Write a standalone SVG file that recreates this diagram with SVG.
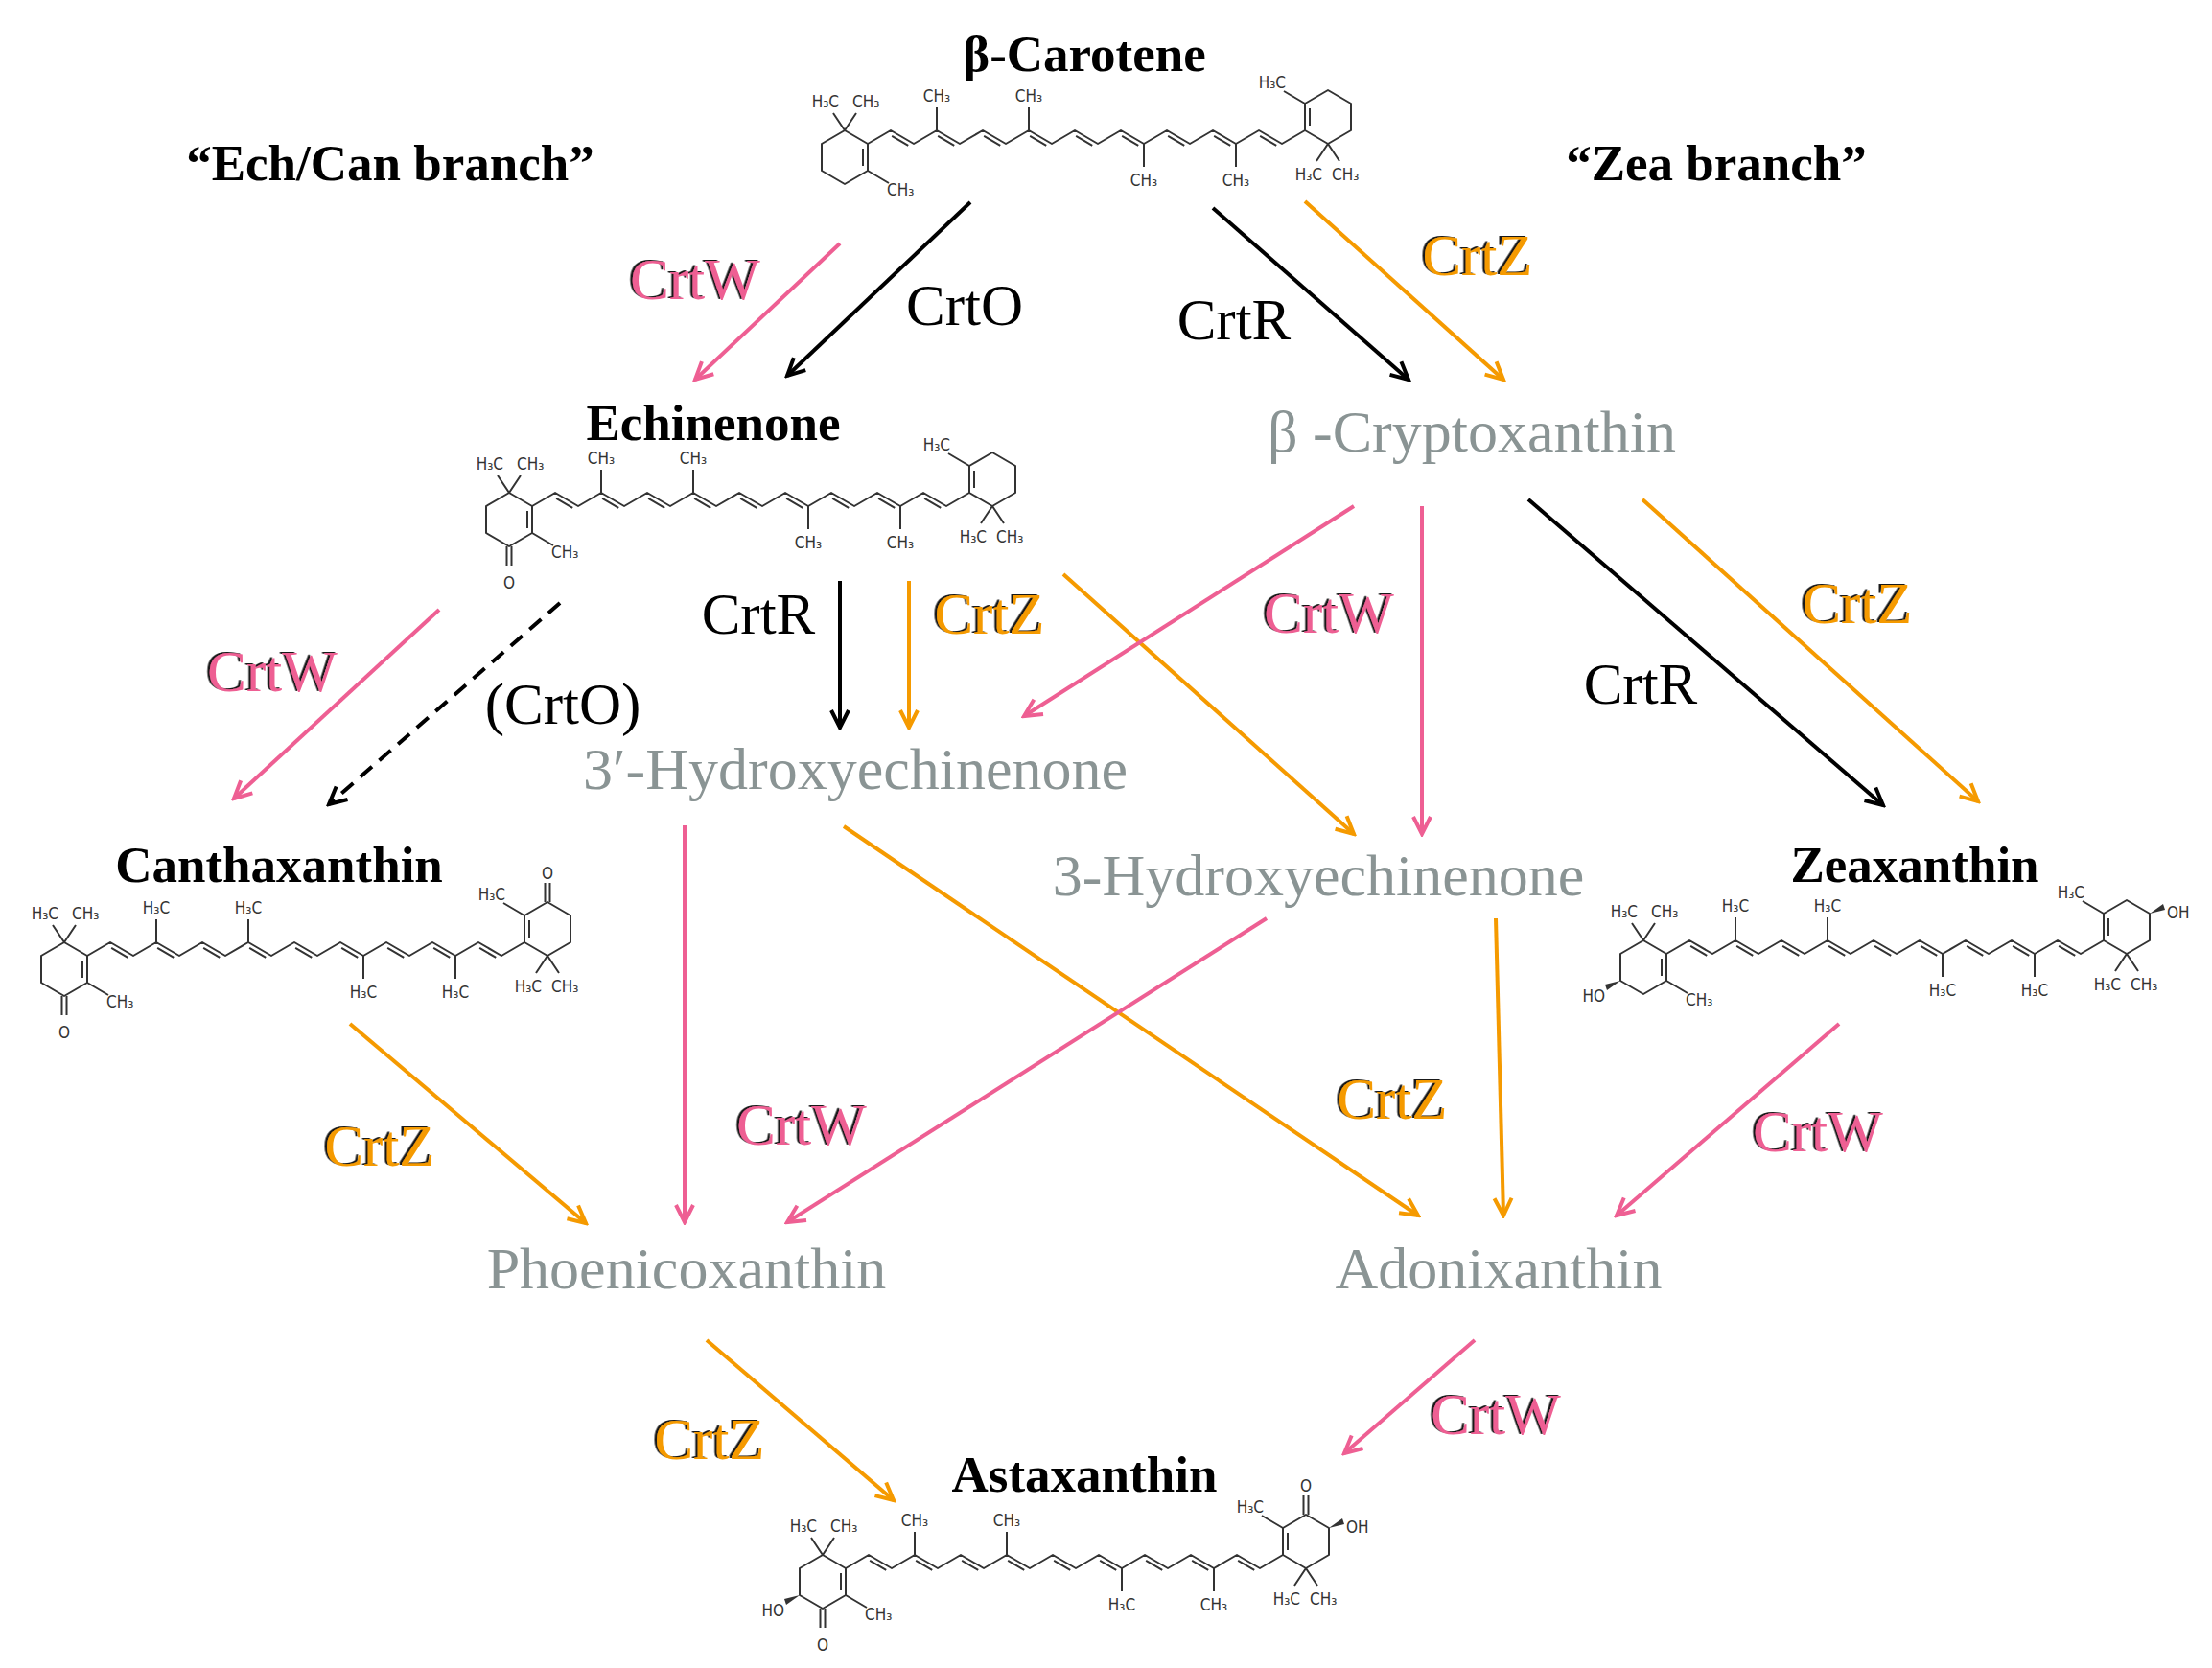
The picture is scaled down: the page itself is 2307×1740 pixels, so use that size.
<svg xmlns="http://www.w3.org/2000/svg" xmlns:xlink="http://www.w3.org/1999/xlink" width="2307" height="1740" viewBox="0 0 2307 1740">
<style>
.b{font-family:"Liberation Serif",serif;font-weight:bold;font-size:53px;fill:#000;text-anchor:middle}
.g{font-family:"Liberation Serif",serif;font-size:62px;fill:#8a9494;text-anchor:middle}
.e{font-family:"Liberation Serif",serif;font-size:61px;text-anchor:middle}
.k{fill:#000}.p{fill:#ee5f93;filter:url(#sh)}.o{fill:#f59a00;filter:url(#sh)}
.s{font-family:"DejaVu Sans Condensed","DejaVu Sans",sans-serif;font-size:17px;fill:#333}
.m{text-anchor:middle}.r{text-anchor:end}
.bond{fill:none;stroke:#333;stroke-width:2;stroke-linejoin:round}
.a{fill:none;stroke-width:4}
.ak{stroke:#000;marker-end:url(#mk)}.ap{stroke:#ee5f93;marker-end:url(#mp)}.ao{stroke:#f59a00;marker-end:url(#mo)}
</style>
<defs>
<filter id="sh" x="-10%" y="-10%" width="120%" height="120%"><feDropShadow dx="-2.5" dy="-1" stdDeviation="0.6" flood-color="#000" flood-opacity="0.9"/></filter>
<marker id="mk" viewBox="0 0 24 24" refX="21" refY="12" markerWidth="24" markerHeight="24" markerUnits="userSpaceOnUse" orient="auto"><path d="M3,3 L21,12 L3,21" fill="none" stroke="#000" stroke-width="4"/></marker>
<marker id="mp" viewBox="0 0 24 24" refX="21" refY="12" markerWidth="24" markerHeight="24" markerUnits="userSpaceOnUse" orient="auto"><path d="M3,3 L21,12 L3,21" fill="none" stroke="#ee5f93" stroke-width="4"/></marker>
<marker id="mo" viewBox="0 0 24 24" refX="21" refY="12" markerWidth="24" markerHeight="24" markerUnits="userSpaceOnUse" orient="auto"><path d="M3,3 L21,12 L3,21" fill="none" stroke="#f59a00" stroke-width="4"/></marker>
<g id="chain" class="bond">
<path d="M0,0 l24,-14 24,14 24,-14 24,14 24,-14 24,14 24,-14 24,14 24,-14 24,14 24,-14 24,14 24,-14 24,14 24,-14 24,14 24,-14 24,14 24,-14"/>
<path d="M25.15,-8.1 l17.1,10 m30.9,-10 l17.1,10 m30.9,-10 l17.1,10 m30.9,-10 l17.1,10 m30.9,-10 l17.1,10 m30.9,-10 l17.1,10 m30.9,-10 l17.1,10 m30.9,-10 l17.1,10 m30.9,-10 l17.1,10"/>
<path d="M72,-14 v-24 M168,-14 v-24 M288,0 v24 M384,0 v24"/>
</g>
<g id="ring" class="bond">
<path d="M0,0 L-24,-14 L-48,0 L-48,28 L-24,42 L0,28 Z"/>
<path d="M-5,5 L-5,23 M0,28 L22,41 M-24,-14 L-36,-32 M-24,-14 L-12,-32"/>
</g>
<path id="oxo" class="bond" d="M-26.5,42 v20 M-21.5,42 v20"/>
<polygon id="oh" points="-48,28 -64,32 -62,38" fill="#333"/>
</defs>

<g id="beta-carotene">
<text class="b" x="1131" y="74">β-Carotene</text>
<use href="#chain" x="905" y="150"/>
<use href="#ring" transform="translate(905,150)"/>
<use href="#ring" transform="translate(1361,136) rotate(180)"/>
<text class="s r" x="875" y="112">H₃C</text><text class="s" x="889" y="112">CH₃</text><text class="s" x="925" y="204">CH₃</text>
<text class="s m" x="977" y="106">CH₃</text><text class="s m" x="1073" y="106">CH₃</text><text class="s m" x="1193" y="194">CH₃</text><text class="s m" x="1289" y="194">CH₃</text>
<text class="s r" x="1341" y="92">H₃C</text><text class="s r" x="1379" y="188">H₃C</text><text class="s" x="1389" y="188">CH₃</text>
</g>

<text id="lbl-ech" class="b" x="407" y="188">“Ech/Can branch”</text>
<text id="lbl-zea" class="b" x="1790" y="188">“Zea branch”</text>

<g id="echinenone">
<text class="b" x="744" y="459">Echinenone</text>
<use href="#chain" x="555" y="528"/>
<use href="#ring" transform="translate(555,528)"/>
<use href="#oxo" transform="translate(555,528)"/>
<text class="s m" x="531" y="614">O</text>
<use href="#ring" transform="translate(1011,514) rotate(180)"/>
<text class="s r" x="525" y="490">H₃C</text><text class="s" x="539" y="490">CH₃</text><text class="s" x="575" y="582">CH₃</text>
<text class="s m" x="627" y="484">CH₃</text><text class="s m" x="723" y="484">CH₃</text><text class="s m" x="843" y="572">CH₃</text><text class="s m" x="939" y="572">CH₃</text>
<text class="s r" x="991" y="470">H₃C</text><text class="s r" x="1029" y="566">H₃C</text><text class="s" x="1039" y="566">CH₃</text>
</g>

<g id="beta-cryptoxanthin"><text class="g" x="1535" y="471">β -Cryptoxanthin</text></g>
<g id="hydroxy3p"><text class="g" x="892" y="823">3′-Hydroxyechinenone</text></g>
<g id="hydroxy3"><text class="g" x="1375" y="934">3-Hydroxyechinenone</text></g>

<g id="canthaxanthin">
<text class="b" x="291" y="920">Canthaxanthin</text>
<use href="#chain" x="91" y="997"/>
<use href="#ring" transform="translate(91,997)"/>
<use href="#oxo" transform="translate(91,997)"/>
<text class="s m" x="67" y="1083">O</text>
<use href="#ring" transform="translate(547,983) rotate(180)"/>
<use href="#oxo" transform="translate(547,983) rotate(180)"/>
<text class="s m" x="571" y="917">O</text>
<text class="s r" x="61" y="959">H₃C</text><text class="s" x="75" y="959">CH₃</text><text class="s" x="111" y="1051">CH₃</text>
<text class="s m" x="163" y="953">H₃C</text><text class="s m" x="259" y="953">H₃C</text><text class="s m" x="379" y="1041">H₃C</text><text class="s m" x="475" y="1041">H₃C</text>
<text class="s r" x="527" y="939">H₃C</text><text class="s r" x="565" y="1035">H₃C</text><text class="s" x="575" y="1035">CH₃</text>
</g>

<g id="zeaxanthin">
<text class="b" x="1997" y="920">Zeaxanthin</text>
<use href="#chain" x="1738" y="995"/>
<use href="#ring" transform="translate(1738,995)"/>
<use href="#oh" transform="translate(1738,995)"/>
<text class="s r" x="1674" y="1045">HO</text>
<use href="#ring" transform="translate(2194,981) rotate(180)"/>
<use href="#oh" transform="translate(2194,981) rotate(180)"/>
<text class="s" x="2260" y="958">OH</text>
<text class="s r" x="1708" y="957">H₃C</text><text class="s" x="1722" y="957">CH₃</text><text class="s" x="1758" y="1049">CH₃</text>
<text class="s m" x="1810" y="951">H₃C</text><text class="s m" x="1906" y="951">H₃C</text><text class="s m" x="2026" y="1039">H₃C</text><text class="s m" x="2122" y="1039">H₃C</text>
<text class="s r" x="2174" y="937">H₃C</text><text class="s r" x="2212" y="1033">H₃C</text><text class="s" x="2222" y="1033">CH₃</text>
</g>

<g id="phoenicoxanthin"><text class="g" x="716" y="1344">Phoenicoxanthin</text></g>
<g id="adonixanthin"><text class="g" x="1563" y="1344">Adonixanthin</text></g>

<g id="astaxanthin">
<text class="b" x="1131" y="1556">Astaxanthin</text>
<use href="#chain" x="882" y="1636"/>
<use href="#ring" transform="translate(882,1636)"/>
<use href="#oxo" transform="translate(882,1636)"/>
<use href="#oh" transform="translate(882,1636)"/>
<text class="s m" x="858" y="1722">O</text>
<text class="s r" x="818" y="1686">HO</text>
<use href="#ring" transform="translate(1338,1622) rotate(180)"/>
<use href="#oxo" transform="translate(1338,1622) rotate(180)"/>
<use href="#oh" transform="translate(1338,1622) rotate(180)"/>
<text class="s m" x="1362" y="1556">O</text>
<text class="s" x="1404" y="1599">OH</text>
<text class="s r" x="852" y="1598">H₃C</text><text class="s" x="866" y="1598">CH₃</text><text class="s" x="902" y="1690">CH₃</text>
<text class="s m" x="954" y="1592">CH₃</text><text class="s m" x="1050" y="1592">CH₃</text><text class="s m" x="1170" y="1680">H₃C</text><text class="s m" x="1266" y="1680">CH₃</text>
<text class="s r" x="1318" y="1578">H₃C</text><text class="s r" x="1356" y="1674">H₃C</text><text class="s" x="1366" y="1674">CH₃</text>
</g>

<g id="connectors">
<path class="a ap" d="M876,254 L725,396"/>
<path class="a ak" d="M1012,211 L821,392"/>
<path class="a ak" d="M1265,217 L1469,396"/>
<path class="a ao" d="M1361,210 L1568,396"/>
<path class="a ap" d="M458,636 L244,833"/>
<path class="a ak" d="M584,629 L343,839" stroke-dasharray="16,10"/>
<path class="a ak" d="M876,606 L876,759"/>
<path class="a ao" d="M948,606 L948,759"/>
<path class="a ao" d="M1109,599 L1412,870"/>
<path class="a ap" d="M1412,528 L1068,747"/>
<path class="a ap" d="M1483,528 L1483,870"/>
<path class="a ak" d="M1594,521 L1964,840"/>
<path class="a ao" d="M1713,521 L2063,836"/>
<path class="a ap" d="M714,861 L714,1275"/>
<path class="a ao" d="M880,862 L1479,1268"/>
<path class="a ap" d="M1321,958 L821,1275"/>
<path class="a ao" d="M1560,958 L1568,1268"/>
<path class="a ao" d="M365,1068 L611,1276"/>
<path class="a ap" d="M1918,1068 L1686,1268"/>
<path class="a ao" d="M737,1398 L932,1565"/>
<path class="a ap" d="M1538,1398 L1402,1516"/>
</g>

<g id="enzyme-labels">
<text class="e p" x="725" y="312">CrtW</text>
<text class="e k" x="1006" y="339">CrtO</text>
<text class="e k" x="1287" y="354">CrtR</text>
<text class="e o" x="1541" y="287">CrtZ</text>
<text class="e p" x="284" y="721">CrtW</text>
<text class="e k" x="587" y="755">(CrtO)</text>
<text class="e k" x="791" y="661">CrtR</text>
<text class="e o" x="1032" y="661">CrtZ</text>
<text class="e p" x="1386" y="660">CrtW</text>
<text class="e o" x="1937" y="650">CrtZ</text>
<text class="e k" x="1711" y="734">CrtR</text>
<text class="e p" x="836" y="1194">CrtW</text>
<text class="e o" x="1452" y="1167">CrtZ</text>
<text class="e p" x="1896" y="1201">CrtW</text>
<text class="e o" x="396" y="1216">CrtZ</text>
<text class="e o" x="740" y="1522">CrtZ</text>
<text class="e p" x="1560" y="1496">CrtW</text>
</g>
</svg>
